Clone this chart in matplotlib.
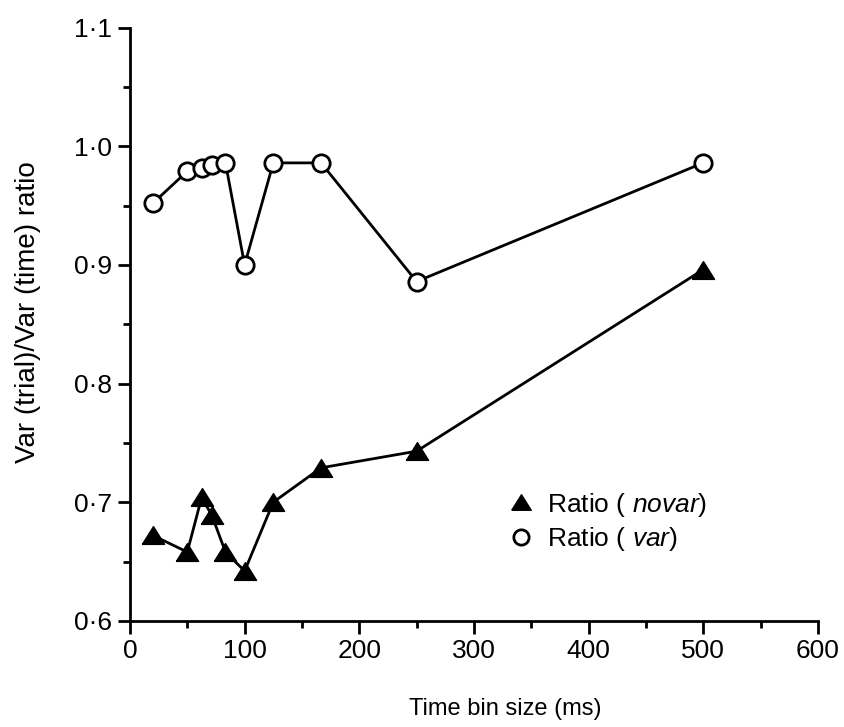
import matplotlib.pyplot as plt
import numpy as np
from matplotlib.lines import Line2D
from matplotlib.ticker import FuncFormatter, MultipleLocator

plt.rcParams['font.family'] = ['Liberation Sans', 'DejaVu Sans']
plt.rcParams['mathtext.fontset'] = 'custom'
plt.rcParams['mathtext.it'] = 'Liberation Sans:italic'
plt.rcParams['mathtext.rm'] = 'Liberation Sans'

# bin sizes (ms)
bins = [20, 50, 62.5, 71.4, 83.3, 100, 125, 166.7, 250, 500]
ratio_novar = [0.672, 0.658, 0.704, 0.689, 0.658, 0.642, 0.700, 0.729, 0.743, 0.896]
ratio_var = [0.952, 0.979, 0.982, 0.984, 0.986, 0.900, 0.986, 0.986, 0.886, 0.986]

fig = plt.figure(figsize=(8.44, 7.27), dpi=100)
ax = fig.add_axes([0.154, 0.146, 0.815, 0.816])

# wide, flat triangle
tri = [(-1, -0.8), (1, -0.8), (0, 0.8), (-1, -0.8)]

ax.plot(bins, ratio_novar, color='black', lw=2.0, marker=tri, ms=16,
        mfc='black', mec='black', zorder=3)
ax.plot(bins, ratio_var, color='black', lw=2.0, marker='o', ms=12.5,
        mfc='white', mec='black', mew=2.0, zorder=3)

ax.set_xlim(0, 600)
ax.set_ylim(0.6, 1.1)
ax.xaxis.set_major_locator(MultipleLocator(100))
ax.xaxis.set_minor_locator(MultipleLocator(50))
ax.yaxis.set_major_locator(MultipleLocator(0.1))
ax.yaxis.set_minor_locator(MultipleLocator(0.05))
ax.yaxis.set_major_formatter(FuncFormatter(lambda v, p: f'{v:.1f}'.replace('.', '\u00b7')))

for s in ['top', 'right']:
    ax.spines[s].set_visible(False)
for s in ['left', 'bottom']:
    ax.spines[s].set_linewidth(2.0)

ax.tick_params(which='major', direction='out', length=9, width=2.0, labelsize=19, pad=4)
ax.tick_params(which='minor', direction='out', length=5, width=2.0)

ax.set_xlabel('Time bin size (ms)', fontsize=17)
ax.xaxis.set_label_coords(0.545, -0.13)
ax.set_ylabel('Var (trial)/Var (time) ratio', fontsize=20)
ax.yaxis.set_label_coords(-0.13, 0.52)

handles = [
    Line2D([], [], ls='none', marker=tri, ms=14, mfc='black', mec='black'),
    Line2D([], [], ls='none', marker='o', ms=11, mfc='white', mec='black', mew=2.0),
]
labels = ['Ratio ( $\\it{novar}$)', 'Ratio ( $\\it{var}$)']
ax.legend(handles, labels, loc='center left', bbox_to_anchor=(484 / 844, 1 - 522 / 727),
          bbox_transform=fig.transFigure, frameon=False,
          fontsize=19, handlelength=1.0, handletextpad=0.5, labelspacing=0.25)

fig.savefig('out.png', dpi=100)
